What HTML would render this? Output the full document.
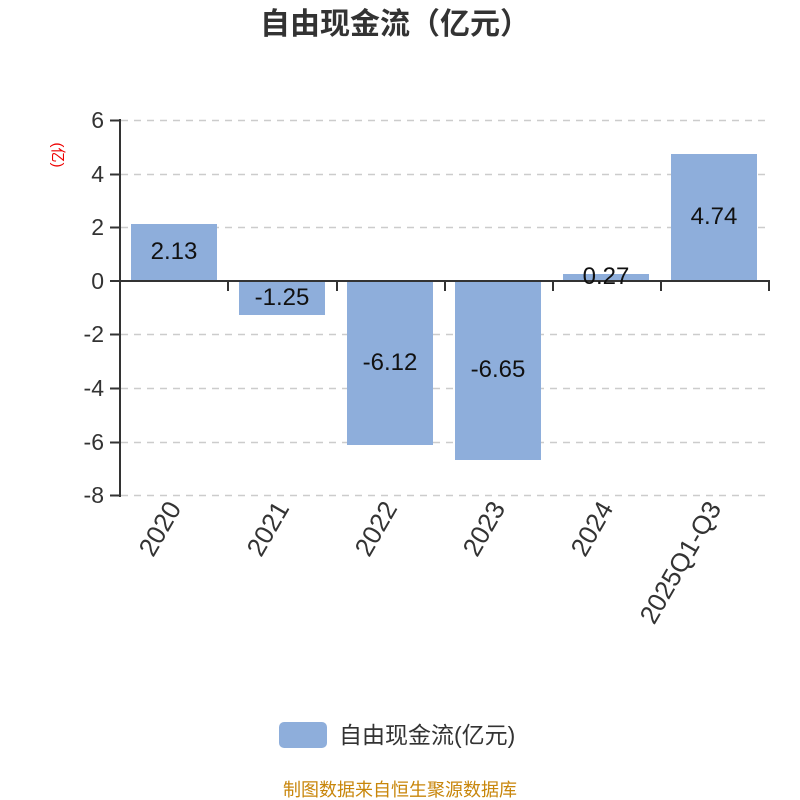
<!DOCTYPE html>
<html><head><meta charset="utf-8"><style>body{margin:0;background:#fff}svg{display:block}text{font-family:"Liberation Sans","Noto Sans CJK SC",sans-serif}</style></head>
<body>
<svg width="800" height="800" viewBox="0 0 800 800" xmlns="http://www.w3.org/2000/svg">
<text x="395" y="34" text-anchor="middle" font-size="30" font-weight="bold" fill="#333">自由现金流（亿元）</text>
<text transform="translate(53,155) rotate(90)" text-anchor="middle" font-size="15" fill="#e00">(亿)</text>
<g stroke="#ccc" stroke-width="1.5" stroke-dasharray="7,6">
<line x1="121" y1="120.5" x2="769" y2="120.5"/><line x1="121" y1="174.5" x2="769" y2="174.5"/>
<line x1="121" y1="227.5" x2="769" y2="227.5"/><line x1="121" y1="334.5" x2="769" y2="334.5"/>
<line x1="121" y1="388.5" x2="769" y2="388.5"/><line x1="121" y1="442.5" x2="769" y2="442.5"/>
<line x1="121" y1="495.5" x2="769" y2="495.5"/>
</g>
<g fill="#8eaedb">
<rect x="131" y="224" width="86" height="57"/>
<rect x="239" y="281" width="86" height="34"/>
<rect x="347" y="281" width="86" height="164"/>
<rect x="455" y="281" width="86" height="179"/>
<rect x="563" y="274" width="86" height="7"/>
<rect x="671" y="154" width="86" height="127"/>
</g>
<g stroke="#333" stroke-width="2">
<line x1="120" y1="119" x2="120" y2="497"/>
<line x1="110" y1="120.5" x2="120" y2="120.5"/><line x1="110" y1="174.5" x2="120" y2="174.5"/>
<line x1="110" y1="227.5" x2="120" y2="227.5"/><line x1="110" y1="281" x2="120" y2="281"/>
<line x1="110" y1="334.5" x2="120" y2="334.5"/><line x1="110" y1="388.5" x2="120" y2="388.5"/>
<line x1="110" y1="442.5" x2="120" y2="442.5"/><line x1="110" y1="495.5" x2="120" y2="495.5"/>
<line x1="120" y1="281" x2="770" y2="281"/>
<line x1="228" y1="281" x2="228" y2="291"/><line x1="337" y1="281" x2="337" y2="291"/>
<line x1="445" y1="281" x2="445" y2="291"/><line x1="553" y1="281" x2="553" y2="291"/>
<line x1="661" y1="281" x2="661" y2="291"/><line x1="769" y1="281" x2="769" y2="291"/>
</g>
<g font-size="23" fill="#333" text-anchor="end">
<text x="104" y="128">6</text><text x="104" y="182">4</text><text x="104" y="235">2</text>
<text x="104" y="289">0</text><text x="104" y="342">-2</text><text x="104" y="396">-4</text>
<text x="104" y="450">-6</text><text x="104" y="503">-8</text>
</g>
<g font-size="24" fill="#111" text-anchor="middle">
<text x="174" y="259">2.13</text><text x="282" y="305">-1.25</text>
<text x="390" y="370">-6.12</text><text x="498" y="377">-6.65</text>
<text x="606" y="284">0.27</text><text x="714" y="224">4.74</text>
</g>
<g font-size="26" fill="#333" text-anchor="end">
<text transform="translate(182,508) rotate(-60)">2020</text>
<text transform="translate(290,508) rotate(-60)">2021</text>
<text transform="translate(398,508) rotate(-60)">2022</text>
<text transform="translate(506,508) rotate(-60)">2023</text>
<text transform="translate(614,508) rotate(-60)">2024</text>
<text transform="translate(722,508) rotate(-60)">2025Q1-Q3</text>
</g>
<rect x="279" y="722" width="48" height="26" rx="5" fill="#8eaedb"/>
<text x="339" y="743" font-size="23" fill="#333">自由现金流(亿元)</text>
<text x="400" y="796" text-anchor="middle" font-size="18" fill="#c8860b">制图数据来自恒生聚源数据库</text>
</svg>
</body></html>
